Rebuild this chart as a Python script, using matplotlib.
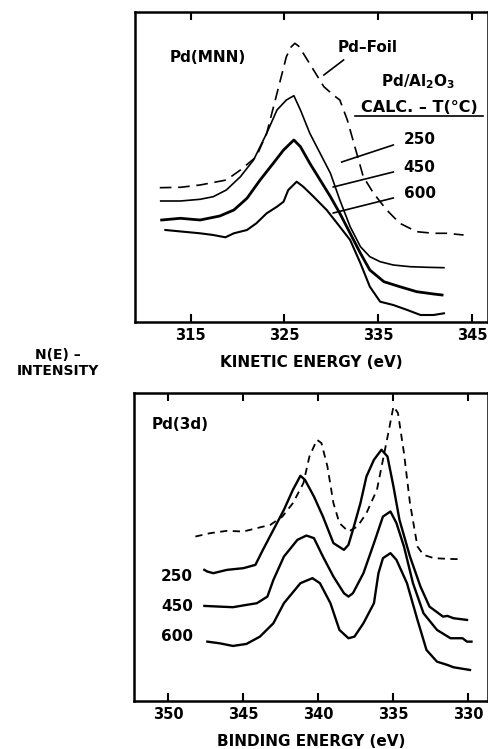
import numpy as np
import matplotlib
matplotlib.use("Agg")
import matplotlib.pyplot as plt

plt.rcParams['font.family'] = ['DejaVu Sans']
plt.rcParams['font.weight'] = 'bold'
plt.rcParams['mathtext.default'] = 'bf'

# ---------------- Pd(MNN) Auger, kinetic energy (eV) vs. intensity (arb.) ----
mnn_foil_x = [311.7, 313.9, 316.0, 318.8, 320.3, 322.0, 323.1, 324.2, 325.2, 325.7,
              326.1, 326.5, 327.0, 328.1, 329.2, 330.2, 330.9, 331.7, 332.4, 333.4,
              334.5, 335.9, 337.3, 339.1, 340.9, 342.3, 344.1]
mnn_foil_y = [134.3, 134.7, 137, 142, 152, 165.3, 188.7, 228.7, 265.3, 275,
              278.7, 276, 268.7, 252, 235.3, 227, 222, 202, 178.7, 145.3,
              128.7, 112, 98.7, 90.3, 88.7, 88.7, 87]

mnn_250_x = [311.8, 313.9, 316.0, 317.4, 318.8, 320.3, 321.7, 323.1, 324.2, 325.2,
             326.0, 326.7, 327.7, 328.8, 329.9, 330.9, 332.0, 333.1, 334.1, 335.2,
             336.6, 338.4, 340.2, 342.0]
mnn_250_y = [121, 121, 122.7, 125.3, 132, 145.3, 162, 188.7, 212, 222,
             226.3, 212, 188.7, 168.7, 148.7, 122, 95.3, 75.3, 65.3, 60.3,
             57, 55.3, 54.7, 54.3]

mnn_450_x = [311.9, 313.9, 316.0, 318.1, 319.6, 321.0, 322.4, 323.8, 324.9, 326.0,
             326.7, 327.7, 328.8, 329.9, 330.9, 332.0, 333.1, 334.1, 335.6, 337.3,
             339.1, 340.9, 341.8]
mnn_450_y = [102, 103.7, 102, 106, 112, 123.7, 142, 158.7, 172, 182,
             175.3, 158.7, 142, 125.3, 108.7, 88.7, 68.7, 52, 40.3, 35.3,
             30.3, 28, 27]

mnn_600_x = [312.3, 314.2, 316.0, 317.4, 318.7, 319.6, 321.0, 322.0, 323.1, 324.2,
             324.9, 325.4, 326.3, 327.0, 328.1, 329.5, 330.9, 332.0, 333.1, 334.1,
             335.2, 336.6, 338.1, 339.5, 340.9, 342.0]
mnn_600_y = [92, 90.3, 88.7, 87, 84.7, 88.7, 92, 98.7, 108.7, 115.3,
             120.3, 132, 140.3, 135.3, 125.3, 112, 95.3, 82, 58.7, 35.3,
             20.3, 17, 12, 7, 7, 8.7]

# ---------------- Pd(3d) XPS, binding energy (eV) vs. intensity (arb.) --------
d3_foil_x = [348.2, 347.2, 346.1, 345.0, 344.1, 343.2, 342.4, 341.7, 341.0, 340.6,
             340.1, 339.8, 339.4, 339.0, 338.6, 338.0, 337.4, 336.8, 336.1, 335.7,
             335.3, 335.0, 334.7, 334.3, 333.9, 333.4, 333.0, 332.3, 331.4, 330.7]
d3_foil_y = [164.3, 167.7, 170, 169.3, 172.7, 176, 184.3, 197.7, 217.7, 244.3,
             261, 257.7, 234.3, 197.7, 177.7, 169.3, 174.3, 187.7, 211, 241,
             271, 294.3, 287.7, 247.7, 197.7, 154.3, 146, 142.7, 142, 141.7]

d3_250_x = [347.6, 347.4, 347.0, 346.1, 345.0, 344.2, 343.7, 343.0, 342.3, 341.7,
            341.2, 340.9, 340.3, 339.7, 339.0, 338.3, 338.0, 337.7, 337.2, 336.8,
            336.3, 335.8, 335.4, 335.0, 334.6, 333.9, 333.2, 332.6, 331.7, 331.4,
            331.0, 330.1]
d3_250_y = [131, 129.3, 127.7, 131, 132.7, 136, 151, 171, 191, 211,
            225, 221, 204.3, 184.3, 157.7, 151, 156, 171, 197.7, 224.3,
            241, 251, 244.3, 214.3, 181, 144.3, 114.3, 94.3, 84.3, 85,
            82.7, 81]

d3_450_x = [347.6, 346.6, 345.7, 344.8, 344.1, 343.4, 343.0, 342.3, 341.4, 340.8,
            340.3, 339.7, 339.0, 338.3, 338.0, 337.7, 337.0, 336.3, 335.7, 335.2,
            334.8, 334.3, 333.7, 333.0, 332.1, 331.2, 330.4, 330.1, 329.8]
d3_450_y = [95, 94.3, 93.7, 96, 97.7, 104.3, 121, 144.3, 161, 165.3,
            162.7, 144.3, 124.3, 107.7, 104.3, 107.7, 127.7, 157.7, 184.3, 189.3,
            177.7, 154.3, 117.7, 87.7, 71, 62.7, 62.7, 59.3, 59.3]

d3_600_x = [347.4, 346.6, 345.7, 344.8, 343.9, 343.0, 342.3, 341.2, 340.4, 339.9,
            339.2, 338.6, 338.0, 337.6, 337.0, 336.3, 336.0, 335.7, 335.2, 334.8,
            334.1, 333.4, 332.8, 332.1, 331.4, 331.0, 330.6, 329.9]
d3_600_y = [59.3, 57.7, 55, 57, 64.3, 77.7, 97.7, 117.7, 122.7, 117.7,
            97.7, 71, 62.7, 64.3, 77.7, 97.7, 127.7, 142.7, 147.7, 141,
            117.7, 81, 51, 39.3, 36, 33.7, 32.7, 31]

temps = ['250', '450', '600']

W, H = 489, 749
fig = plt.figure(figsize=(W / 100, H / 100), dpi=100)
FS = 11


def px_axes(left, top, right, bottom):
    return fig.add_axes([left / W, 1 - bottom / H, (right - left) / W, (bottom - top) / H])


def style(ax, ticks):
    for s in ax.spines.values():
        s.set_linewidth(1.8)
    ax.set_yticks([])
    ax.set_xticks(ticks)
    ax.tick_params(axis='x', direction='in', top=True, length=6, width=1.5,
                   labelsize=10.5, pad=4)
    for lab in ax.get_xticklabels():
        lab.set_fontweight('bold')


# ---------------- top panel ----------------
ax1 = px_axes(135, 12, 488, 322)
ax1.plot(mnn_foil_x, mnn_foil_y, color='k', lw=1.2, ls=(0, (7, 4)))
ax1.plot(mnn_250_x, mnn_250_y, color='k', lw=1.2)
ax1.plot(mnn_450_x, mnn_450_y, color='k', lw=2.0)
ax1.plot(mnn_600_x, mnn_600_y, color='k', lw=1.5)
ax1.set_xlim(309.06, 346.7)
ax1.set_ylim(0, 310)
style(ax1, [315, 325, 335, 345])
ax1.set_xlabel('KINETIC ENERGY (eV)', fontsize=FS, fontweight='bold', labelpad=9)

ax1.text(312.8, 264, 'Pd(MNN)', fontsize=FS, fontweight='bold', va='center')
ax1.text(330.7, 274, 'Pd\u2013Foil', fontsize=FS, fontweight='bold', va='center')
ax1.plot([329.2, 331.3], [247, 262], color='k', lw=1.2)
ax1.text(339.3, 240, 'Pd/Al$_2$O$_3$', fontsize=FS,
         fontweight='bold', ha='center', va='center')
ax1.text(339.4, 215, 'CALC. \u2013 T(\u00b0C)', fontsize=FS + 0.5, fontweight='bold',
         ha='center', va='center')
ax1.plot([332.5, 346.2], [206, 206], color='k', lw=1.2)
lab_y = [182, 155, 129]
lead_start = [(331.1, 160), (330.2, 135), (330.2, 109)]
for t, y, (x0, y0) in zip(temps, lab_y, lead_start):
    ax1.text(337.7, y, t, fontsize=FS, fontweight='bold', va='center')
    ax1.plot([x0, 336.6], [y0, y - 5], color='k', lw=1.2)

# ---------------- bottom panel ----------------
ax2 = px_axes(134.3, 392.7, 488, 701)
ax2.plot(d3_foil_x, d3_foil_y, color='k', lw=1.3, ls=(0, (4, 3)))
ax2.plot(d3_250_x, d3_250_y, color='k', lw=1.7)
ax2.plot(d3_450_x, d3_450_y, color='k', lw=1.7)
ax2.plot(d3_600_x, d3_600_y, color='k', lw=1.7)
ax2.set_xlim(352.27, 328.7)
ax2.set_ylim(0, 308)
style(ax2, [350, 345, 340, 335, 330])
ax2.set_xlabel('BINDING ENERGY (eV)', fontsize=FS, fontweight='bold', labelpad=9)

ax2.text(351.1, 276, 'Pd(3d)', fontsize=FS, fontweight='bold', va='center')
for t, y in zip(temps, [124, 94, 64]):
    ax2.text(348.35, y, t, fontsize=FS, fontweight='bold', ha='right', va='center')

fig.text(58 / W, 1 - 363 / H, 'N(E) \u2013\nINTENSITY', fontsize=10, fontweight='bold',
         ha='center', va='center', linespacing=1.15)

fig.savefig('out.png', dpi=100)
